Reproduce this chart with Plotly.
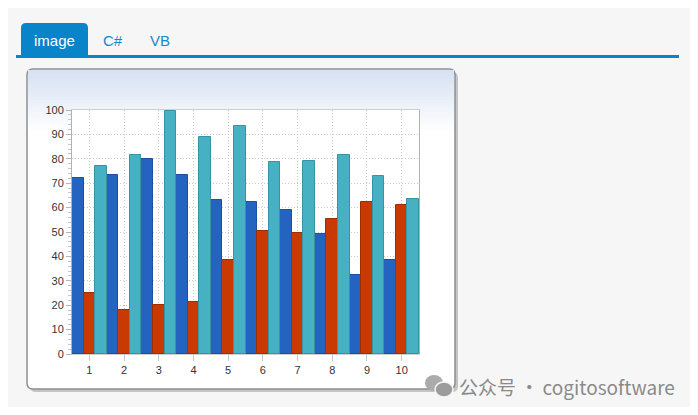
import plotly.graph_objects as go

categories = [1, 2, 3, 4, 5, 6, 7, 8, 9, 10]
series_blue = [72, 73.5, 80, 73.5, 63, 62.5, 59, 49, 32.5, 38.5]
series_red = [25, 18, 20, 21.5, 38.5, 50.5, 49.5, 55.5, 62.5, 61]
series_teal = [77, 81.5, 99.5, 89, 93.5, 78.5, 79, 81.5, 73, 63.5]
tabs = ["image", "C#", "VB"]

O = 8  # page body margin
W, H = 698 - 2 * O, 415 - 2 * O
PL, PR, PT, PB = 72, 419, 110, 354  # plot area in window pixels


def px(x):
    return (x - PL) / (PR - PL)


def py(y):
    return (PB - y) / (PB - PT)


def rrect(x0, y0, x1, y1, r, top_only=False):
    a, b, c, d = px(x0), py(y0), px(x1), py(y1)
    rx = r / (PR - PL)
    ry = r / (PB - PT)
    if top_only:
        return (f"M{a},{d} L{a},{b - ry} Q{a},{b} {a + rx},{b} L{c - rx},{b} "
                f"Q{c},{b} {c},{b - ry} L{c},{d} Z")
    return (f"M{a},{d + ry} L{a},{b - ry} Q{a},{b} {a + rx},{b} L{c - rx},{b} "
            f"Q{c},{b} {c},{b - ry} L{c},{d + ry} Q{c},{d} {c - rx},{d} "
            f"L{a + rx},{d} Q{a},{d} {a},{d + ry} Z")


fig = go.Figure()
for vals, fill, edge in [(series_blue, "#2563c1", "#1d4f9e"),
                         (series_red, "#c83a02", "#9c2e00"),
                         (series_teal, "#47b1c4", "#3893a5")]:
    fig.add_bar(x=categories, y=vals, marker=dict(color=fill, line=dict(color=edge, width=1)))

shapes = []
# card shadow
shapes.append(dict(type="path", xref="paper", yref="paper", path=rrect(30, 72, 458, 392, 6),
                   fillcolor="#c4c4c4", line=dict(width=0), layer="below"))
# card
shapes.append(dict(type="path", xref="paper", yref="paper", path=rrect(27, 69, 455, 389, 6),
                   fillcolor="white", line=dict(color="#8c8f94", width=1.5), layer="below"))
# gradient bands at card top
n = 20
for i in range(n):
    t = i / n
    r = int(216 + (255 - 216) * t)
    g = int(226 + (255 - 226) * t)
    b = int(243 + (255 - 243) * t)
    y0 = 70 + i * 3
    shapes.append(dict(type="rect", xref="paper", yref="paper",
                       x0=px(28), x1=px(454), y0=py(y0 + 3.5), y1=py(y0),
                       fillcolor=f"rgb({r},{g},{b})", line=dict(width=0), layer="below"))
# plot area background
shapes.append(dict(type="rect", xref="paper", yref="paper", x0=0, x1=1, y0=0, y1=1,
                   fillcolor="white", line=dict(width=0), layer="below"))
# tab
shapes.append(dict(type="path", xref="paper", yref="paper", path=rrect(21, 23, 88, 56, 5, top_only=True),
                   fillcolor="#0a84c8", line=dict(width=0), layer="below"))
shapes.append(dict(type="rect", xref="paper", yref="paper", x0=px(16), x1=px(679), y0=py(58), y1=py(55),
                   fillcolor="#0a84c8", line=dict(width=0), layer="below"))

annotations = []
for name, xc, col in zip(tabs, [54, 113, 160], ["white", "#1a86c8", "#1a86c8"]):
    annotations.append(dict(text=name, x=px(xc), y=py(40), xref="paper", yref="paper",
                            xanchor="center", yanchor="middle", showarrow=False,
                            font=dict(size=15, color=col, family="Liberation Sans, Arial")))
annotations.append(dict(text="公众号\u2009·\u2009cogitosoftware", x=px(677), y=py(386), xref="paper", yref="paper",
                        xanchor="right", yanchor="middle", showarrow=False,
                        font=dict(size=19, color="#8a8a8a", family="Noto Sans CJK SC")))
shapes.append(dict(type="circle", xref="paper", yref="paper", x0=px(425), x1=px(443),
                   y0=py(391), y1=py(375), fillcolor="#ababab", line=dict(width=0)))
shapes.append(dict(type="circle", xref="paper", yref="paper", x0=px(435), x1=px(453),
                   y0=py(397), y1=py(382), fillcolor="#9c9c9c", line=dict(color="#f6f6f6", width=1.5)))

fig.update_layout(
    width=W, height=H,
    margin=dict(l=PL - O, r=W + O - PR, t=PT - O, b=H + O - PB, pad=0),
    paper_bgcolor="#f6f6f6", plot_bgcolor="rgba(0,0,0,0)",
    barmode="group", bargap=0, bargroupgap=0, showlegend=False,
    font=dict(family="Liberation Sans, Arial", size=11, color="#333333"),
    shapes=shapes, annotations=annotations,
    xaxis=dict(tickmode="array", tickvals=categories, range=[0.5, 10.5],
               showgrid=True, gridcolor="#c9c9c9", griddash="1px,2px", gridwidth=1,
               ticks="outside", ticklen=6, tickcolor="#c9c9c9",
               showline=True, linecolor="#cfcfcf", mirror=True, zeroline=False),
    yaxis=dict(range=[0, 100], dtick=10, showgrid=True, gridcolor="#c9c9c9", griddash="1px,2px",
               ticks="outside", ticklen=5, tickcolor="#b5b5b5",
               minor=dict(dtick=2, ticks="outside", ticklen=3, tickcolor="#c5c5c5", showgrid=False),
               showline=True, linecolor="#b0b0b0", mirror=True, zeroline=False),
)

fig.write_html("out.html")
